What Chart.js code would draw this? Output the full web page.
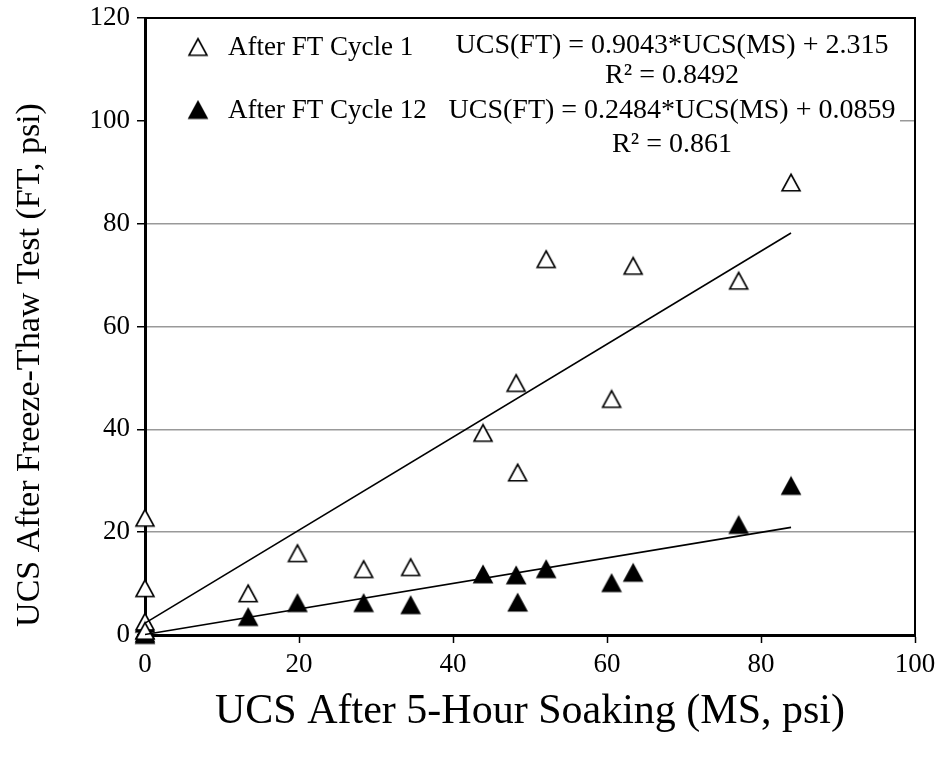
<!DOCTYPE html>
<html><head><meta charset="utf-8">
<script src="https://cdn.jsdelivr.net/npm/chart.js@4/dist/chart.umd.min.js"></script>
<style>html,body{margin:0;padding:0;background:#fff}#wrap{width:945px;height:763px}</style>
</head><body><div id="wrap"><canvas id="c" width="945" height="763"></canvas></div>
<script>
// ---- data ----
const seriesNames = ['After FT Cycle 1', 'After FT Cycle 12'];
const msUCS     = [0, 0, 0, 0, 13.4, 19.8, 28.4, 34.5, 43.9, 48.2, 48.4, 52.1, 60.6, 63.4, 77.1, 83.9];
const ftCycle1  = [22.8, 9.1, 2.6, 0.8, 8.1, 15.9, 12.8, 13.2, 39.3, 49.0, 31.6, 73.1, 45.9, 71.8, 68.9, 88.0];
const ftCycle12 = [2.2, 0.9, 0.3, 0, 3.5, 6.2, 6.2, 5.8, 11.8, 11.6, 6.3, 12.8, 10.1, 12.1, 21.4, 29.0];
const trendSlopes = [0.9043, 0.2484];
const trendIntercepts = [2.315, 0.0859];
const trendR2 = [0.8492, 0.861];
const xTicks = [0, 20, 40, 60, 80, 100];
const yTicks = [0, 20, 40, 60, 80, 100, 120];
const xTitle = 'UCS After 5-Hour Soaking (MS, psi)';
const yTitle = 'UCS After Freeze-Thaw Test (FT, psi)';

const FONT = "'Liberation Serif','Times New Roman',serif";

function makeTriangle(filled) {
  const w = 18, h = 16.5, pad = 2;
  const cv = document.createElement('canvas');
  cv.width = w + pad * 2; cv.height = Math.ceil(h + pad * 2);
  const c = cv.getContext('2d');
  const cx = cv.width / 2, cy = cv.height / 2;
  c.beginPath();
  c.moveTo(cx, cy - h / 2);
  c.lineTo(cx + w / 2, cy + h / 2);
  c.lineTo(cx - w / 2, cy + h / 2);
  c.closePath();
  c.fillStyle = filled ? '#000' : '#fff';
  c.fill();
  c.lineWidth = 1.6; c.strokeStyle = '#000'; c.lineJoin = 'miter';
  c.stroke();
  return cv;
}
const triOpen = makeTriangle(false);
const triFilled = makeTriangle(true);

const pts = (ys) => msUCS.map((x, i) => ({x: x, y: ys[i]}));
const xMax = Math.max(...msUCS);
const trend = (k) => [
  {x: 0, y: trendIntercepts[k]},
  {x: xMax, y: trendSlopes[k] * xMax + trendIntercepts[k]}
];

const overlayPlugin = {
  id: 'overlay',
  beforeDatasetsDraw(chart) {
    const {ctx, chartArea: a} = chart;
    ctx.save();
    ctx.fillStyle = '#fff';
    ctx.fillRect(a.left + 2, a.top + 2, 900 - a.left - 2, 160 - a.top);
    ctx.restore();
  },
  afterDraw(chart) {
    const {ctx, chartArea: a} = chart;
    ctx.save();
    // top & right frame
    ctx.strokeStyle = '#000'; ctx.lineWidth = 2;
    ctx.beginPath();
    ctx.moveTo(a.left, a.top); ctx.lineTo(a.right, a.top); ctx.lineTo(a.right, a.bottom);
    ctx.stroke();
    // y axis title
    ctx.fillStyle = '#000';
    ctx.save();
    ctx.translate(30, 365);
    ctx.rotate(-Math.PI / 2);
    ctx.font = '34px ' + FONT;
    ctx.textAlign = 'center';
    ctx.textBaseline = 'middle';
    ctx.fillText(yTitle, 0, 0);
    ctx.restore();
    // legend
    ctx.textBaseline = 'alphabetic';
    ctx.font = '27px ' + FONT;
    ctx.textAlign = 'left';
    const rows = [55, 118];
    const icons = [triOpen, triFilled];
    seriesNames.forEach((n, i) => {
      ctx.drawImage(icons[i], 198 - icons[i].width / 2, rows[i] - 8 - icons[i].height / 2);
      ctx.fillText(n, 228, rows[i]);
    });
    // equations
    ctx.font = '28px ' + FONT;
    ctx.textAlign = 'center';
    const cx = 672;
    const eqBase = [[53, 83], [118, 152]];
    for (let k = 0; k < 2; k++) {
      ctx.fillText('UCS(FT) = ' + trendSlopes[k] + '*UCS(MS) + ' + trendIntercepts[k], cx, eqBase[k][0]);
      ctx.fillText('R\u00B2 = ' + trendR2[k], cx, eqBase[k][1]);
    }
    ctx.restore();
  }
};

new Chart(document.getElementById('c'), {
  type: 'scatter',
  data: {
    datasets: [
      {label: 'trend1', data: trend(0), showLine: true, borderColor: '#000', borderWidth: 1.6, pointRadius: 0, fill: false, clip: false},
      {label: 'trend12', data: trend(1), showLine: true, borderColor: '#000', borderWidth: 1.6, pointRadius: 0, fill: false, clip: false},
      {label: seriesNames[0], data: pts(ftCycle1), pointStyle: triOpen, pointRadius: 10, showLine: false, clip: false},
      {label: seriesNames[1], data: pts(ftCycle12), pointStyle: triFilled, pointRadius: 10, showLine: false, clip: false}
    ]
  },
  options: {
    responsive: false,
    animation: false,
    devicePixelRatio: 1,
    layout: {padding: {left: 0, top: 18, right: 30, bottom: 0}},
    plugins: {legend: {display: false}, tooltip: {enabled: false}},
    scales: {
      x: {
        type: 'linear', min: 0, max: 100,
        afterBuildTicks: (s) => { s.ticks = xTicks.map(v => ({value: v})); },
        afterFit: (s) => { s.height = 128; },
        ticks: {color: '#000', font: {family: FONT, size: 27}, padding: 6, maxRotation: 0},
        grid: {drawOnChartArea: false, drawTicks: true, tickLength: 8, tickColor: '#000', tickWidth: 1.5},
        border: {display: true, color: '#000', width: 3},
        title: {display: true, text: xTitle, color: '#000', font: {family: FONT, size: 42}, padding: {top: 4, bottom: 26}}
      },
      y: {
        type: 'linear', min: 0, max: 120,
        afterBuildTicks: (s) => { s.ticks = yTicks.map(v => ({value: v})); },
        afterFit: (s) => { s.width = 145; s.paddingTop = 2; s.paddingBottom = 2; },
        ticks: {color: '#000', font: {family: FONT, size: 27}, padding: 7},
        grid: {
          color: (c) => (c.tick && c.tick.value > 0 && c.tick.value < 120) ? '#999' : 'rgba(0,0,0,0)',
          lineWidth: 1.5, drawTicks: true, tickLength: 8, tickColor: '#000', tickWidth: 1.5
        },
        border: {display: true, color: '#000', width: 3},
        title: {display: false}
      }
    }
  },
  plugins: [overlayPlugin]
});
</script>
</body></html>
